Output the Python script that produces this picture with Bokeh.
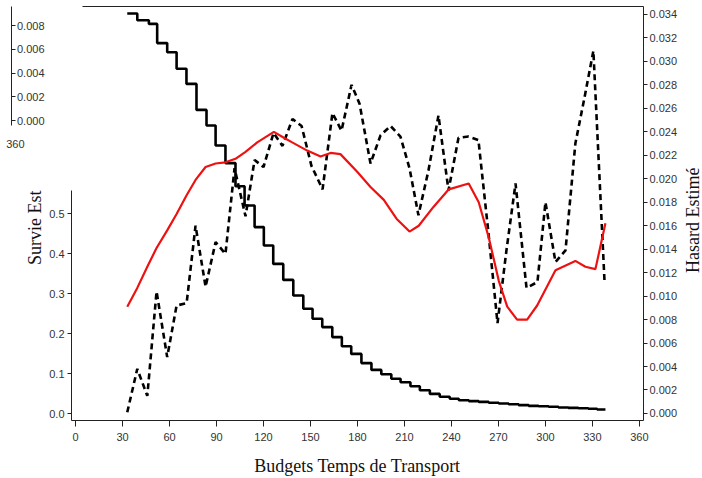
import math
from bokeh.plotting import figure
from bokeh.models import LinearAxis, Range1d, FixedTicker, PrintfTickFormatter
from bokeh.embed import file_html
from bokeh.resources import INLINE

# ---- data ----
surv_x = [33.0, 39.4, 46.8, 52.1, 58.5, 64.5, 70.8, 77.2, 83.6, 89.4,
          95.7, 102.1, 107.9, 114.3, 120.2, 126.2, 132.6, 139.0, 145.4, 151.3,
          157.5, 163.9, 170.0, 176.0, 182.5, 188.9, 195.2, 201.6, 207.5, 213.8,
          219.8, 226.2, 232.5, 238.9, 244.7, 251.1, 257.4, 263.8, 270.2, 276.5,
          282.9, 289.3, 295.6, 302.0, 308.3, 314.7, 321.0, 327.4, 333.0, 338.3]
surv_y = [1.000, 0.983, 0.974, 0.926, 0.903, 0.862, 0.824, 0.759, 0.720, 0.670,
          0.626, 0.568, 0.520, 0.466, 0.420, 0.374, 0.334, 0.295, 0.262, 0.237,
          0.216, 0.191, 0.168, 0.149, 0.126, 0.109, 0.098, 0.087, 0.078, 0.068,
          0.058, 0.049, 0.042, 0.037, 0.033, 0.031, 0.029, 0.027, 0.025, 0.023,
          0.021, 0.019, 0.018, 0.017, 0.015, 0.014, 0.013, 0.012, 0.010, 0.010]

haz_x = [33.0, 39.4, 45.8, 51.7, 58.5, 64.5, 70.9, 76.6, 83.0, 89.4,
         95.7, 101.5, 108.5, 114.3, 120.0, 126.4, 132.1, 138.5, 144.3, 150.6,
         157.7, 164.0, 169.8, 176.2, 181.3, 188.3, 194.7, 201.1, 207.4, 213.2,
         218.9, 225.3, 231.7, 238.1, 244.5, 250.9, 257.2, 263.6, 269.4, 275.1,
         280.9, 287.9, 294.9, 300.0, 306.4, 312.8, 319.1, 324.9, 330.6, 337.7]
haz_y = [0.0001, 0.0038, 0.0015, 0.0104, 0.0048, 0.0092, 0.0094, 0.0160, 0.0108, 0.0146,
         0.0136, 0.0209, 0.0168, 0.0216, 0.0210, 0.0239, 0.0228, 0.0251, 0.0245, 0.0211,
         0.0191, 0.0256, 0.0241, 0.0280, 0.0264, 0.0213, 0.0237, 0.0245, 0.0236, 0.0209,
         0.0169, 0.0207, 0.0254, 0.0190, 0.0235, 0.0236, 0.0233, 0.0154, 0.0077, 0.0139,
         0.0196, 0.0107, 0.0112, 0.0180, 0.0129, 0.0139, 0.0230, 0.0269, 0.0309, 0.0113]

smooth_x = [33.0, 39.4, 45.8, 51.7, 58.5, 64.5, 70.9, 76.6, 83.0, 89.4,
            95.7, 102.1, 108.5, 116.0, 126.6, 133.0, 138.3, 147.9, 156.4, 162.8,
            169.1, 179.8, 188.3, 196.8, 204.9, 213.2, 219.1, 228.5, 238.3, 251.0,
            257.4, 263.8, 270.2, 275.6, 281.9, 288.3, 294.7, 306.4, 319.1, 325.5,
            331.9, 338.3]
smooth_y = [0.0091, 0.0107, 0.0125, 0.0141, 0.0156, 0.0170, 0.0186, 0.0199, 0.0210, 0.0213,
            0.0214, 0.0217, 0.0223, 0.0231, 0.0240, 0.0235, 0.0231, 0.0224, 0.0219, 0.0222,
            0.0221, 0.0206, 0.0193, 0.0182, 0.0166, 0.0155, 0.0160, 0.0176, 0.0191, 0.0196,
            0.0180, 0.0150, 0.0113, 0.0091, 0.0080, 0.0080, 0.0092, 0.0122, 0.0130, 0.0125,
            0.0123, 0.0162]

x_ticks = [0, 30, 60, 90, 120, 150, 180, 210, 240, 270, 300, 330, 360]
surv_ticks = [0.0, 0.1, 0.2, 0.3, 0.4, 0.5]
haz_ticks = [0.000, 0.002, 0.004, 0.006, 0.008, 0.010, 0.012, 0.014, 0.016, 0.018,
             0.020, 0.022, 0.024, 0.026, 0.028, 0.030, 0.032, 0.034]
frag_ticks = [0.000, 0.002, 0.004, 0.006, 0.008, 0.010]
frag_x_ticks = [360]

x_title = "Budgets Temps de Transport"
left_title = "Survie Est"
right_title = "Hasard Estimé"

SANS = "Liberation Sans"
SERIF = "Liberation Serif"
TICK_COL = "#333333"
TITLE_COL = "#111111"

p = figure(width=702, height=478, output_backend="svg", toolbar_location=None,
           x_range=Range1d(-2.6, 362.6), y_range=Range1d(-0.0175, 1.0175),
           min_border_left=71, min_border_right=59, min_border_top=6, min_border_bottom=58)
p.outline_line_color = None
p.xgrid.grid_line_color = None
p.ygrid.grid_line_color = None
p.background_fill_color = "white"
p.border_fill_color = "white"

# "labely": a pixel-like helper scale (0 at the frame bottom) used only to place the side titles
p.extra_y_ranges = {"haz": Range1d(-0.0006, 0.03468),
                    "frag": Range1d(-0.02526, 0.0096),
                    "fragx": Range1d(83, 497),
                    "labely": Range1d(0, 414)}


def style_axis(ax, tick_out=4, standoff=3):
    ax.major_tick_out = tick_out
    ax.major_tick_in = 0
    ax.minor_tick_out = 0
    ax.minor_tick_in = 0
    ax.axis_line_color = "#222222"
    ax.major_tick_line_color = "#222222"
    ax.major_label_text_font = SANS
    ax.major_label_text_font_size = "11px"
    ax.major_label_text_color = TICK_COL
    ax.major_label_standoff = standoff
    ax.axis_label_text_font = SERIF
    ax.axis_label_text_font_size = "18px"
    ax.axis_label_text_font_style = "normal"
    ax.axis_label_text_color = TITLE_COL


def title_axis(text, pos, standoff):
    ax = LinearAxis(y_range_name="labely", ticker=FixedTicker(ticks=[pos]),
                    major_label_overrides={pos: text})
    style_axis(ax, tick_out=0, standoff=standoff)
    ax.axis_line_color = None
    ax.major_tick_line_color = None
    ax.major_label_text_font = SERIF
    ax.major_label_text_font_size = "18px"
    ax.major_label_text_color = TITLE_COL
    ax.major_label_orientation = math.pi / 2
    return ax


# bottom axis
xa = p.xaxis[0]
xa.ticker = FixedTicker(ticks=x_ticks)
style_axis(xa, tick_out=6, standoff=6)
xa.axis_label = x_title
xa.axis_label_standoff = 12

# left axis (survival)
ya = p.yaxis[0]
ya.ticker = FixedTicker(ticks=surv_ticks)
ya.formatter = PrintfTickFormatter(format="%.1f")
ya.bounds = (-0.0175, 0.5575)
style_axis(ya, tick_out=4, standoff=3)

# right axis (hazard)
ra = LinearAxis(y_range_name="haz", ticker=FixedTicker(ticks=haz_ticks),
                formatter=PrintfTickFormatter(format="%.3f"))
style_axis(ra, tick_out=4, standoff=2)
p.add_layout(ra, "right")

# top rule
ta = LinearAxis(ticker=FixedTicker(ticks=[]), bounds=(4.5, 362.6))
ta.axis_line_color = "#222222"
ta.major_label_text_font_size = "0px"
p.add_layout(ta, "above")

# left title (reads bottom to top)
p.add_layout(title_axis(left_title, 230, 12), "left")

# fragment of a neighbouring panel, upper left
fa = LinearAxis(y_range_name="frag", ticker=FixedTicker(ticks=frag_ticks),
                formatter=PrintfTickFormatter(format="%.3f"), bounds=(-0.0004, 0.0096))
style_axis(fa, tick_out=0, standoff=-33)
fa.major_tick_in = 4
p.add_layout(fa, "left")

fx = LinearAxis(y_range_name="fragx", ticker=FixedTicker(ticks=frag_x_ticks))
style_axis(fx, tick_out=0, standoff=-13)
fx.axis_line_color = None
p.add_layout(fx, "left")

# right title, carried across to the right edge (reads bottom to top)
p.add_layout(title_axis(right_title, 253, -689), "left")

# glyphs
p.step(surv_x, surv_y, mode="after", line_color="black", line_width=2.6)
p.line(haz_x, haz_y, y_range_name="haz", line_color="black", line_width=2.6,
       line_dash="6 4")
p.line(smooth_x, smooth_y, y_range_name="haz", line_color="#ee1111", line_width=2.2)

open("out.html", "w").write(file_html(p, INLINE))
